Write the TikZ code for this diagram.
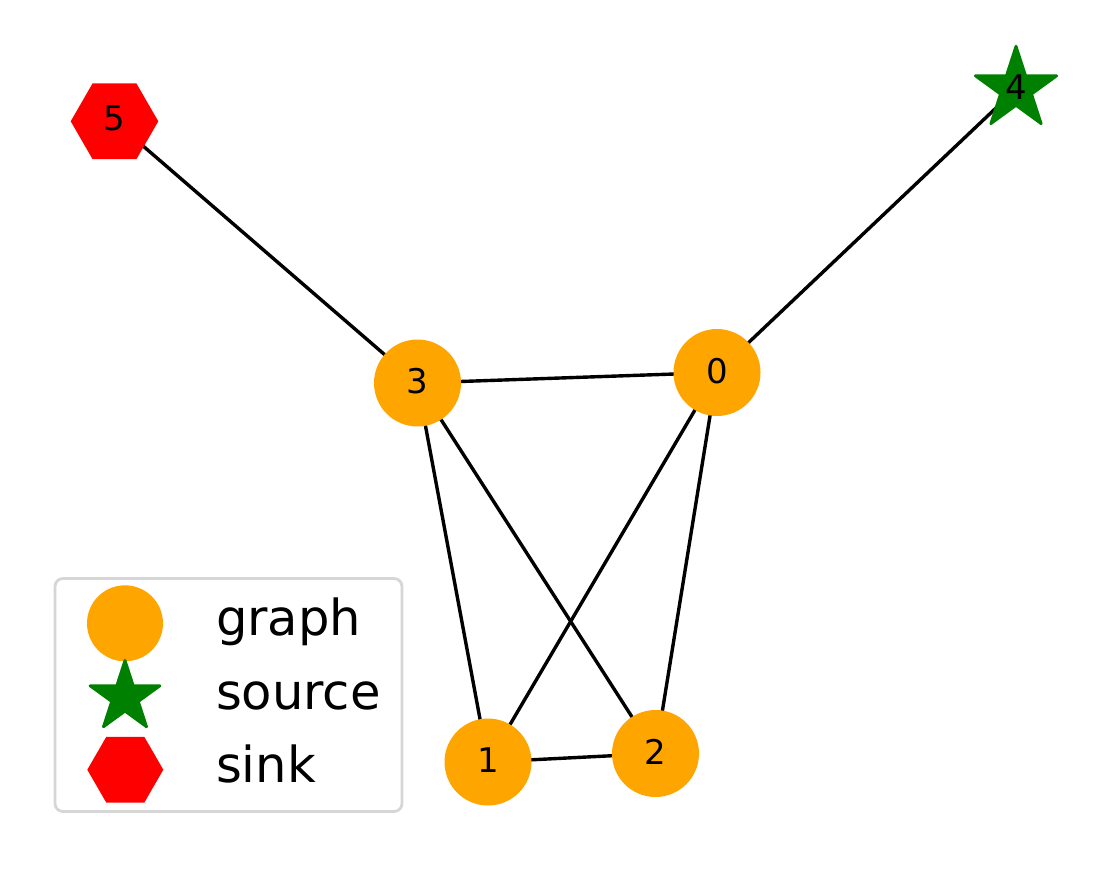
\documentclass[tikz,border=0pt]{standalone}
\usepackage{fontspec}
\setmainfont{DejaVu Sans}
\usetikzlibrary{shapes.geometric,backgrounds}
\definecolor{nodeorange}{HTML}{FFA500}
\definecolor{srcgreen}{HTML}{008000}
\definecolor{sinkred}{HTML}{FF0000}
\definecolor{framegray}{HTML}{D6D6D6}
\begin{document}
\begin{tikzpicture}[x=0.5pt,y=-0.5pt,
  every node/.style={inner sep=0pt,outer sep=0pt},
  graphnode/.style={circle,fill=nodeorange,minimum size=43.5pt},
  sourcenode/.style={star,star points=5,star point ratio=2.618,
    fill=srcgreen,draw=srcgreen,line width=1.4pt,line join=round,minimum size=42.8pt},
  sinknode/.style={regular polygon,regular polygon sides=6,fill=sinkred,minimum size=43.8pt},
  nodelabel/.style={font=\fontsize{17}{20}\selectfont,text=black},
  edge/.style={line width=1.7pt,black},
  legendtext/.style={font=\fontsize{24.8}{29}\selectfont,anchor=base west}
]
\useasboundingbox (0,0) rectangle (1106,868);

% graph nodes
\node[graphnode] (n0) at (717,372.5) {};
\node[graphnode] (n1) at (488,762) {};
\node[graphnode] (n2) at (655.5,753.5) {};
\node[graphnode] (n3) at (417.5,383) {};
\node[sourcenode] (n4) at (1016,89) {};
\node[sinknode] (n5) at (114.5,121.3) {};

% node numbers
\node[nodelabel] (l0) at (717,371) {0};
\node[nodelabel] (l1) at (488,760.5) {1};
\node[nodelabel] (l2) at (655.5,752) {2};
\node[nodelabel] (l3) at (417.5,381) {3};
\node[nodelabel] (l4) at (1016,87.5) {4};
\node[nodelabel] (l5) at (114.5,118.5) {5};

% edges, behind the nodes
\begin{scope}[on background layer]
  \draw[edge] (n5.center) -- (n3.center);
  \draw[edge] (n4.center) -- (n0.center);
  \draw[edge] (n3.center) -- (n0.center);
  \draw[edge] (n3.center) -- (n1.center);
  \draw[edge] (n3.center) -- (n2.center);
  \draw[edge] (n0.center) -- (n1.center);
  \draw[edge] (n0.center) -- (n2.center);
  \draw[edge] (n1.center) -- (n2.center);
\end{scope}

% legend
\draw[framegray,line width=1.4pt,rounded corners=4pt,fill=white]
  (55,578.5) rectangle (402,811.5);
\node[graphnode,minimum size=38pt] (kg) at (125,623.3) {};
\node[sourcenode,minimum size=36.7pt] (ks) at (125,697.1) {};
\node[sinknode,minimum size=38pt] (kk) at (125.3,769.7) {};
\node[legendtext] (tg) at (216,635.5) {graph};
\node[legendtext] (ts) at (216,709) {source};
\node[legendtext] (tk) at (216,782.5) {sink};
\end{tikzpicture}
\end{document}
